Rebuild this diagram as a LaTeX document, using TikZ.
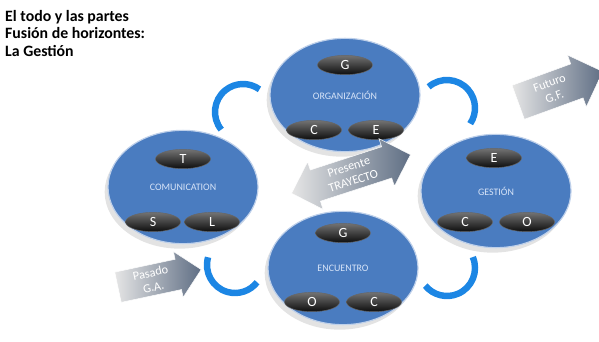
\documentclass[tikz,border=0pt]{standalone}
\usepackage{fontspec}
\setmainfont{Carlito}
\usepackage{tikz}
\usetikzlibrary{positioning,shapes.geometric,shapes.arrows,shadows}
\definecolor{circblue}{RGB}{74,124,192}
\definecolor{rimblue}{RGB}{190,208,234}
\definecolor{arcblue}{RGB}{28,134,228}
\definecolor{slate}{RGB}{95,110,132}
\definecolor{labelblue}{RGB}{215,228,248}

\begin{document}
\begin{tikzpicture}[x=0.03cm,y=-0.03cm,
  circ/.style={ellipse, fill=circblue, draw=rimblue, line width=1pt, minimum width=4.5cm, minimum height=3.4cm, text=labelblue, font=\fontsize{8.5}{8.5}\selectfont, drop shadow={opacity=0.22, shadow xshift=-1mm, shadow yshift=-1.5mm}},
  pill/.style={ellipse, top color=black!55, bottom color=black!95, draw=black!60, minimum width=1.65cm, minimum height=0.58cm, inner sep=0pt, text=white, font=\fontsize{12}{12}\selectfont},
  cyc/.style={arcblue, line width=5.5pt},
  tarrow/.style={single arrow, left color=gray!20, right color=slate, draw=white, text=white, align=center, font=\fontsize{10.5}{12.5}\selectfont, inner sep=1pt, single arrow head extend=0.2cm}]
\useasboundingbox (0,0) rectangle (599,341);
% title
\node[anchor=north west, align=left, inner sep=0pt, font=\bfseries\fontsize{13.5}{15}\selectfont] (title) at (5,10) {El todo y las partes\\Fusión de horizontes:\\La Gestión};
% circles
\node[circ] (org) at (345,95) {ORGANIZACIÓN};
\node[circ] (com) at (183,187) {COMUNICATION};
\node[circ] (ges) at (496,191) {GESTIÓN};
\node[circ] (enc) at (343,268) {ENCUENTRO};
% pills
\node[pill] (orgG) at ([shift={(0,-30)}]org.center) {G};
\node[pill] (orgC) at ([shift={(-31,35)}]org.center) {C};
\node[pill] (orgE) at ([shift={(31,35)}]org.center) {E};
\node[pill] (comT) at ([shift={(0,-28)}]com.center) {T};
\node[pill] (comS) at ([shift={(-30,35)}]com.center) {S};
\node[pill] (comL) at ([shift={(29,35)}]com.center) {L};
\node[pill] (gesE) at ([shift={(-2,-33)}]ges.center) {E};
\node[pill] (gesC) at ([shift={(-31,31)}]ges.center) {C};
\node[pill] (gesO) at ([shift={(31,31)}]ges.center) {O};
\node[pill] (encG) at ([shift={(0,-35)}]enc.center) {G};
\node[pill] (encO) at ([shift={(-31,34)}]enc.center) {O};
\node[pill] (encC) at ([shift={(31,34)}]enc.center) {C};
% cycle arcs
\coordinate (hubA) at (243,112);
\coordinate (hubB) at (447,108);
\coordinate (hubC) at (447,268);
\coordinate (hubD) at (235,265);
\draw[cyc] (hubA) ++(141:28) arc[start angle=141, end angle=306, radius=28];
\draw[cyc] (hubB) ++(229:28) arc[start angle=229, end angle=394, radius=28];
\draw[cyc] (hubC) ++(-23:28) arc[start angle=-23, end angle=141, radius=28];
\draw[cyc] (hubD) ++(196:28) arc[start angle=196, end angle=38, radius=28];
% time arrows
\node[tarrow, rotate=12, minimum height=2.55cm, minimum width=1.4cm] (pasado) at (152,280) {Pasado\\G.A.};
\node[tarrow, double arrow, double arrow head extend=0.2cm, rotate=18, minimum height=3.75cm, minimum width=1.5cm] (presente) at (351,174) {Presente\\TRAYECTO};
\node[tarrow, rotate=20, minimum height=2.7cm, minimum width=1.65cm] (futuro) at (552,90) {Futuro\\G.F.};
\end{tikzpicture}
\end{document}
